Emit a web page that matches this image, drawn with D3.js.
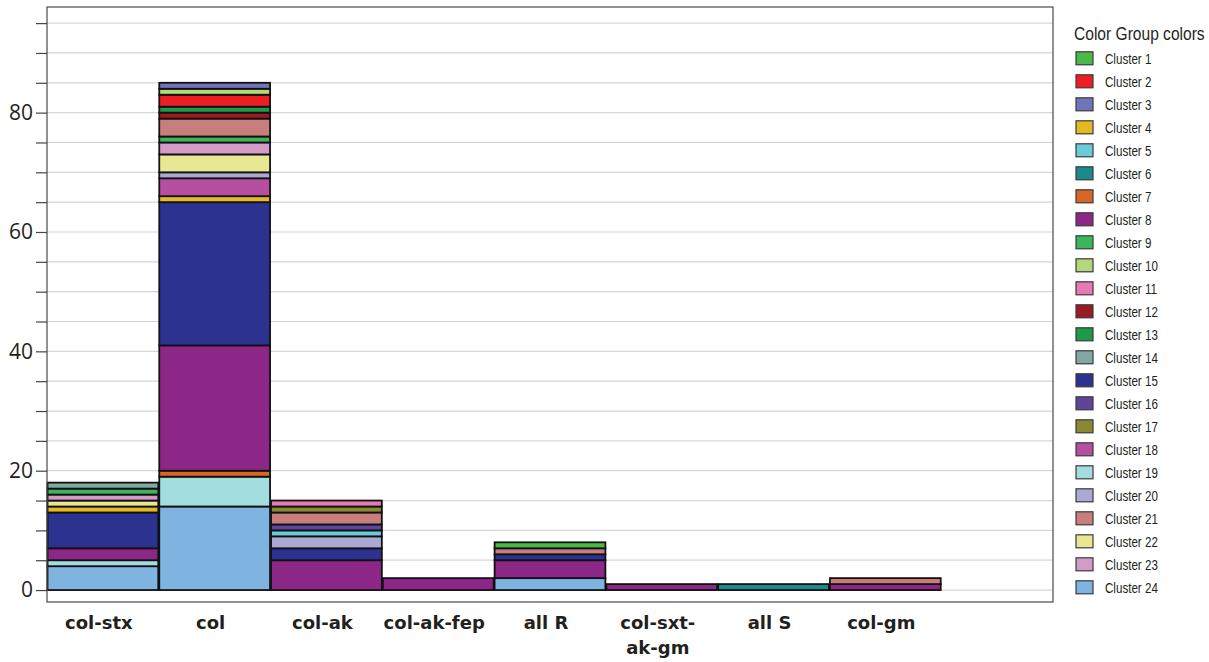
<!DOCTYPE html>
<html>
<head>
<meta charset="utf-8">
<script src="https://cdn.jsdelivr.net/npm/d3@7"></script>
<style>
  html, body { margin: 0; padding: 0; background: #fff; }
  svg { display: block; }
</style>
</head>
<body>
<div id="d3-container"></div>
<script>
/**
 * DATA
 * */
const categories = ["col-stx", "col", "col-ak", "col-ak-fep", "all R", "col-sxt-ak-gm", "all S", "col-gm"];
const xTickLabels = ["col-stx", "col", "col-ak", "col-ak-fep", "all R", "col-sxt-\nak-gm", "all S", "col-gm"];

const clusterNames = ["Cluster 1", "Cluster 2", "Cluster 3", "Cluster 4", "Cluster 5", "Cluster 6",
  "Cluster 7", "Cluster 8", "Cluster 9", "Cluster 10", "Cluster 11", "Cluster 12",
  "Cluster 13", "Cluster 14", "Cluster 15", "Cluster 16", "Cluster 17", "Cluster 18",
  "Cluster 19", "Cluster 20", "Cluster 21", "Cluster 22", "Cluster 23", "Cluster 24"];
const clusterColors = ["#4cb848", "#ee1d24", "#7074b8", "#e6b823", "#6ccbd9", "#1c8a8c",
  "#da6529", "#8c2687", "#3db65b", "#b3d77b", "#e67ab3", "#9a1b22",
  "#1f994a", "#82a8a6", "#2b3290", "#5e459c", "#8a8933", "#b64fa0",
  "#a3dde0", "#aba8d4", "#c97e7e", "#e8e894", "#d49bc9", "#7fb3e0"];

// [cluster number, count], bottom to top
const colStx = [[24, 4], [19, 1], [8, 2], [15, 6], [4, 1], [22, 1], [23, 1], [9, 1], [14, 1]];
const col = [[24, 14], [19, 5], [7, 1], [8, 21], [15, 24], [4, 1], [18, 3], [20, 1], [22, 3],
  [23, 2], [9, 1], [21, 3], [12, 1], [13, 1], [2, 2], [10, 1], [3, 1]];
const colAk = [[8, 5], [15, 2], [20, 2], [5, 1], [16, 1], [21, 2], [17, 1], [11, 1]];
const colAkFep = [[8, 2]];
const allR = [[24, 2], [8, 3], [15, 1], [21, 1], [1, 1]];
const colSxtAkGm = [[8, 1]];
const allS = [[6, 1]];
const colGm = [[8, 1], [21, 1]];
const barSegments = [colStx, col, colAk, colAkFep, allR, colSxtAkGm, allS, colGm];

const yTicksMajor = [0, 20, 40, 60, 80];

/**
 * CONSTANTS
 * */
const width = 1209,
  height = 662,
  plot = { left: 47, top: 7, right: 1053, bottom: 602 };

const svg = d3.select("#d3-container")
  .append("svg")
  .attr("width", width)
  .attr("height", height);

// 9 slots wide, last one is left empty like the original
const slot = (plot.right - plot.left) / 9;
const x = d3.scaleBand()
  .domain(categories)
  .range([plot.left, plot.left + slot * categories.length])
  .padding(0);

const y = d3.scaleLinear()
  .domain([-2, 97.7])
  .range([plot.bottom, plot.top]);

const color = d3.scaleOrdinal()
  .domain(d3.range(1, 25))
  .range(clusterColors);

// gridlines
const gridVals = d3.range(0, 96, 5);
svg.append("g")
  .selectAll("line")
  .data(gridVals)
  .join("line")
  .attr("x1", plot.left)
  .attr("x2", plot.right)
  .attr("y1", d => y(d))
  .attr("y2", d => y(d))
  .attr("stroke", "#d6d6d6")
  .attr("stroke-width", 1.2);

// stacked segments
const rects = [];
barSegments.forEach((segs, i) => {
  let base = 0;
  segs.forEach(([cl, v]) => {
    rects.push({ cat: categories[i], cluster: cl, y0: base, y1: base + v });
    base += v;
  });
});

svg.append("g")
  .selectAll("rect")
  .data(rects)
  .join("rect")
  .attr("x", d => x(d.cat) + 0.5)
  .attr("width", x.bandwidth() - 1)
  .attr("y", d => y(d.y1))
  .attr("height", d => y(d.y0) - y(d.y1))
  .attr("fill", d => color(d.cluster))
  .attr("stroke", "#111")
  .attr("stroke-width", 1.8);

// frame
svg.append("rect")
  .attr("x", plot.left)
  .attr("y", plot.top)
  .attr("width", plot.right - plot.left)
  .attr("height", plot.bottom - plot.top)
  .attr("fill", "none")
  .attr("stroke", "#4a4a4a")
  .attr("stroke-width", 1.2);

// y axis
const yAxis = d3.axisLeft(y)
  .tickValues(gridVals)
  .tickSize(11)
  .tickPadding(3)
  .tickFormat(d => yTicksMajor.includes(d) ? d : "");

const gy = svg.append("g")
  .attr("transform", `translate(${plot.left},0)`)
  .call(yAxis);
gy.select(".domain").remove();
gy.selectAll(".tick line").attr("stroke", "#444").attr("stroke-width", 1.2);
gy.selectAll(".tick text")
  .attr("fill", "#231f20")
  .style("font-family", "'Open Sans', sans-serif")
  .style("font-size", "21px");

// x labels
svg.append("g")
  .selectAll("text")
  .data(categories)
  .join("text")
  .attr("x", d => x(d) + x.bandwidth() / 2 - 4)
  .attr("y", 629)
  .attr("text-anchor", "middle")
  .attr("fill", "#231f20")
  .style("font-family", "'DejaVu Sans', sans-serif")
  .style("font-weight", "bold")
  .style("font-size", "18px")
  .each(function (d, i) {
    const lines = xTickLabels[i].split("\n");
    d3.select(this).selectAll("tspan")
      .data(lines)
      .join("tspan")
      .attr("x", x(d) + x.bandwidth() / 2 - 4)
      .attr("dy", (l, j) => j === 0 ? 0 : 25)
      .text(l => l);
  });

// legend (narrow font faked with a horizontal squeeze)
const narrow = "'Liberation Sans', Arial, sans-serif";
const legend = svg.append("g")
  .attr("transform", "translate(1074,0)");

legend.append("text")
  .attr("transform", "translate(0,40) scale(0.82,1)")
  .attr("fill", "#231f20")
  .style("font-family", narrow)
  .style("font-size", "19px")
  .text("Color Group colors");

const items = legend.selectAll("g.item")
  .data(clusterNames)
  .join("g")
  .attr("class", "item")
  .attr("transform", (d, i) => `translate(0,${58.3 + i * 23})`);

items.append("rect")
  .attr("x", 2)
  .attr("y", -6.5)
  .attr("width", 17)
  .attr("height", 13)
  .attr("fill", (d, i) => clusterColors[i])
  .attr("stroke", "#3a3a3a")
  .attr("stroke-width", 1.2);

items.append("text")
  .attr("transform", "translate(31,5.5) scale(0.8,1)")
  .attr("fill", "#231f20")
  .style("font-family", narrow)
  .style("font-size", "14.5px")
  .text(d => d);
</script>
</body>
</html>
